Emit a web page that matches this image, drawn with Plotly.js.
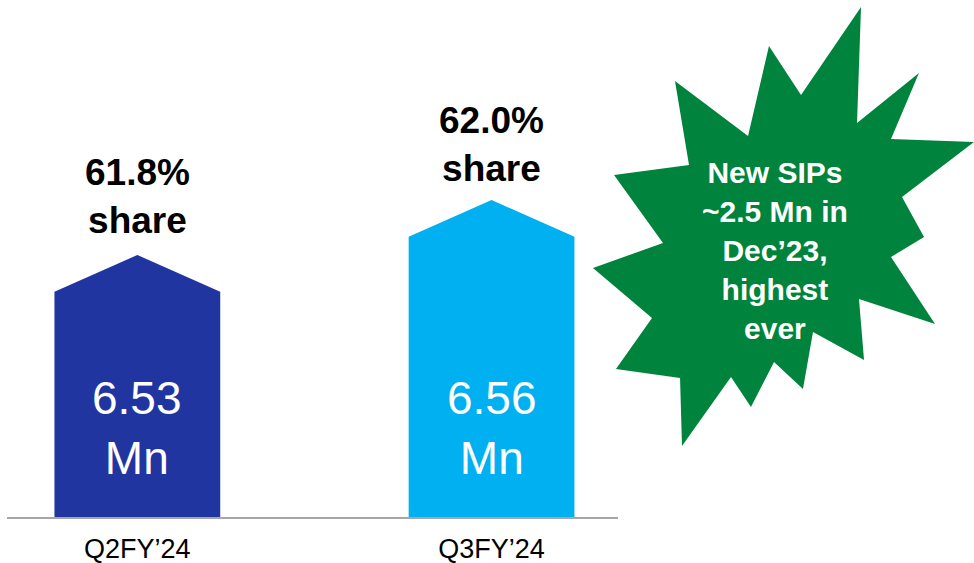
<!DOCTYPE html>
<html>
<head>
<meta charset="utf-8">
<script src="https://cdn.plot.ly/plotly-3.0.1.min.js"></script>
<style>html,body{margin:0;padding:0;background:#fff;}#chart{width:974px;height:563px;}</style>
</head>
<body>
<div id="chart"></div>
<script>
const categories = ["Q2FY\u201924", "Q3FY\u201924"];
const investorsMn = [6.53, 6.56];
const sharePct = [61.8, 62.0];
const barColors = ["#2135A1", "#00B0F0"];
const calloutText = "New SIPs<br>~2.5 Mn in<br>Dec\u201923,<br>highest<br>ever";

const W = 974, H = 563;
const yMin = 6.4069, yMax = 6.6891;
const halfW = 0.234, tip = 0.02;
const FONT = "Liberation Sans, Arial, sans-serif";

const traces = categories.map((c, i) => {
  const v = investorsMn[i];
  return {
    type: "scatter", mode: "lines", fill: "toself",
    x: [i - halfW, i - halfW, i, i + halfW, i + halfW, i - halfW],
    y: [yMin, v, v + tip, v, yMin, yMin],
    fillcolor: barColors[i], line: {width: 0, color: barColors[i]},
    hoverinfo: "skip", showlegend: false
  };
});

const annotations = [];
categories.forEach((c, i) => {
  annotations.push({
    x: i, y: investorsMn[i] + tip, xref: "x", yref: "y",
    text: "<b>" + sharePct[i].toFixed(1) + "%<br>share</b>",
    showarrow: false, xanchor: "center", yanchor: "bottom", yshift: 12 + (i === 1 ? -3 : 0),
    font: {family: FONT, size: 37, color: "#000"}
  });
  annotations.push({
    x: i, y: 1 - 428 / H, xref: "x", yref: "paper",
    text: investorsMn[i].toFixed(2) + "<br>Mn",
    showarrow: false, xanchor: "center", yanchor: "middle",
    font: {family: FONT, size: 46, color: "#fff"}
  });
});
annotations.push({
  x: 775 / W, y: 1 - 251 / H, xref: "paper", yref: "paper",
  text: "<b>" + calloutText + "</b>", showarrow: false,
  xanchor: "center", yanchor: "middle",
  font: {family: FONT, size: 30, color: "#fff"}
});

const star = [[861,7],[857,123],[919,73],[891,139],[974,142],[902,197],[924,237],[891,257],[935,324],[859,299],[864,360],[813,332],[803,389],[774,362],[751,407],[731,377],[682,446],[680,378],[616,369],[652,318],[593,268],[663,243],[614,175],[689,165],[675,81],[748,136],[769,46],[801,95]];
const starPath = "M " + star.map(p => (p[0] / W).toFixed(4) + "," + (1 - p[1] / H).toFixed(4)).join(" L ") + " Z";

const layout = {
  width: W, height: H,
  margin: {l: 0, r: 0, t: 0, b: 0},
  paper_bgcolor: "#fff", plot_bgcolor: "rgba(0,0,0,0)",
  showlegend: false,
  xaxis: {
    domain: [7 / W, 618 / W], range: [-0.368, 1.357],
    tickvals: [0, 1], ticktext: categories,
    showgrid: false, zeroline: false, showline: true,
    linecolor: "#A6A6A6", linewidth: 1.5, ticks: "",
    ticklabelstandoff: 7,
    tickfont: {family: FONT, size: 27, color: "#000"}
  },
  yaxis: {
    domain: [(H - 517.3) / H, 1], range: [yMin, yMax],
    visible: false, showgrid: false, zeroline: false
  },
  shapes: [{
    type: "path", xref: "paper", yref: "paper", path: starPath,
    fillcolor: "#00843D", line: {width: 0}, layer: "below"
  }],
  annotations: annotations
};

Plotly.newPlot("chart", traces, layout, {staticPlot: true, displayModeBar: false});
</script>
</body>
</html>
